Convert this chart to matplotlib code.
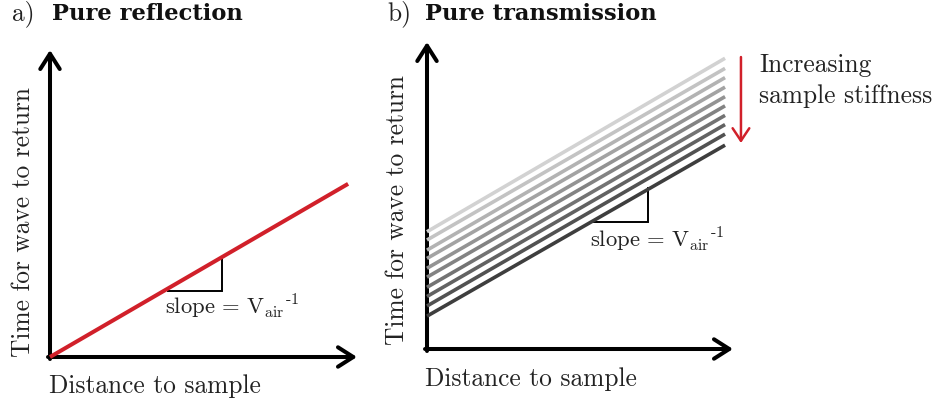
import numpy as np
import matplotlib
matplotlib.use('Agg')
import matplotlib.pyplot as plt

plt.rcParams['font.family'] = 'cmr10'
plt.rcParams['mathtext.fontset'] = 'cm'
plt.rcParams['axes.unicode_minus'] = False

# --- Schematic data (arbitrary units, axes run 0..10) ---
refl_dist = [0.0, 9.71]
refl_time = [0.0, 5.64]

trans_dist = [0.0, 9.74]
trans_start = [3.82, 3.55, 3.22, 2.95, 2.63, 2.34, 2.01, 1.71, 1.40, 1.07]
trans_end = [9.47, 9.14, 8.84, 8.53, 8.22, 7.92, 7.61, 7.31, 7.00, 6.64]
trans_grey = ['#d2d2d2', '#c3c3c3', '#b3b3b3', '#a3a3a3', '#939393',
              '#838383', '#737373', '#626262', '#525252', '#3e3e3e']

# slope triangles: (x_left, x_right, y_bottom, y_top)
tri_a = (3.84, 5.60, 2.15, 3.19)
tri_b = (5.42, 7.22, 4.14, 5.23)

stiff_arrow_x = 10.26
stiff_arrow_y = (9.51, 6.71)

red = '#d1202a'
fs = 18.3
fs_slope = 16.3
slope_lbl = r'$\mathrm{slope}\,=\,\mathrm{V}_{\mathrm{air}}{}^{\text{-}1}$'

W, H = 936, 404
fig = plt.figure(figsize=(W / 100, H / 100), dpi=100)
ax_a = fig.add_axes([50 / W, (H - 357) / H, 307 / W, 307 / H])
ax_b = fig.add_axes([427 / W, (H - 349) / H, 306 / W, 307 / H])


def draw_axes(ax):
    ax.set_xlim(0, 10); ax.set_ylim(0, 10)
    ax.axis('off')
    arrow = dict(arrowstyle='->,head_length=0.55,head_width=0.35', lw=2.9,
                 color='black', shrinkA=0, shrinkB=0, mutation_scale=20)
    ax.annotate('', xy=(10, 0), xytext=(-0.065, 0), arrowprops=arrow, annotation_clip=False)
    ax.annotate('', xy=(0, 10), xytext=(0, -0.065), arrowprops=arrow, annotation_clip=False)


def draw_triangle(ax, tri, zorder=1):
    x0, x1, y0, y1 = tri
    ax.plot([x0, x1, x1], [y0, y0, y1], color='black', lw=1.4,
            solid_joinstyle='miter', zorder=zorder, clip_on=False)


def title(ax, x_lbl, x_bold, y, letter, text):
    ax.text(x_lbl, y, letter, fontsize=fs, va='baseline', ha='left', color='#222222')
    ax.text(x_bold, y, text, fontsize=16.3, va='baseline', ha='left',
            family='DejaVu Serif', weight='bold', color='#111111')


# --- a) Pure reflection ---
draw_axes(ax_a)
draw_triangle(ax_a, tri_a)
ax_a.plot(refl_dist, refl_time, color=red, lw=2.9, solid_capstyle='butt', zorder=3, clip_on=False)
ax_a.text(3.75, 1.37, slope_lbl, fontsize=fs_slope, va='baseline', ha='left', color='#222222')
title(ax_a, -1.24, 0.07, 10.98, 'a)', 'Pure reflection')
ax_a.text(-0.88, 4.4, 'Time for wave to return', fontsize=fs, rotation=90,
          ha='center', va='center', color='#222222')
ax_a.text(-0.03, -1.17, 'Distance to sample', fontsize=fs, va='baseline', ha='left', color='#222222')

# --- b) Pure transmission ---
draw_axes(ax_b)
draw_triangle(ax_b, tri_b)
for y0, y1, c in zip(trans_start, trans_end, trans_grey):
    ax_b.plot(trans_dist, [y0, y1], color=c, lw=2.6, solid_capstyle='butt', zorder=3, clip_on=False)
ax_b.text(5.32, 3.29, slope_lbl, fontsize=fs_slope, va='baseline', ha='left', color='#222222')
title(ax_b, -1.31, -0.07, 10.72, 'b)', 'Pure transmission')
ax_b.text(-0.98, 4.53, 'Time for wave to return', fontsize=fs, rotation=90,
          ha='center', va='center', color='#222222')
ax_b.text(-0.07, -1.21, 'Distance to sample', fontsize=fs, va='baseline', ha='left', color='#222222')

ax_b.annotate('', xy=(stiff_arrow_x, stiff_arrow_y[1]), xytext=(stiff_arrow_x, stiff_arrow_y[0]),
              arrowprops=dict(arrowstyle='->,head_length=0.45,head_width=0.3', lw=1.8,
                              color=red, shrinkA=0, shrinkB=0, mutation_scale=20),
              annotation_clip=False)
ax_b.text(10.85, 9.02, 'Increasing', fontsize=fs, va='baseline', ha='left', color='#222222')
ax_b.text(10.85, 8.01, 'sample stiffness', fontsize=fs, va='baseline', ha='left', color='#222222')

fig.savefig('out.png', dpi=100)
